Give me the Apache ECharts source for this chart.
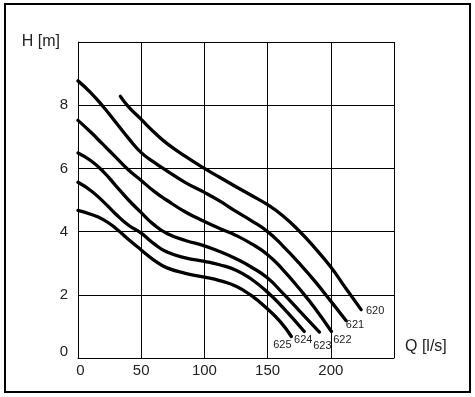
<!DOCTYPE html>
<html>
<head>
<meta charset="utf-8">
<script src="https://cdn.jsdelivr.net/npm/echarts@6/dist/echarts.min.js"></script>
<style>html,body{margin:0;padding:0;background:#fff;}#c{width:475px;height:397px;}</style>
</head>
<body>
<div id="c"></div>
<script>
const xTicks = [0, 50, 100, 150, 200];
const yTicks = [0, 2, 4, 6, 8];
const curveNames = ['620', '621', '622', '623', '624', '625'];
const c620 = [[33.5,8.28],[40,7.95],[50,7.55],[60,7.15],[70,6.8],[85,6.38],[100,6.0],[112,5.72],[125,5.42],[137,5.15],[150,4.85],[162,4.5],[175,4.02],[187,3.5],[200,2.88],[212,2.2],[224,1.53]];
const c621 = [[0,8.77],[10,8.4],[20,7.95],[30,7.45],[40,6.95],[50,6.5],[60,6.2],[70,5.93],[85,5.55],[100,5.24],[112,4.97],[125,4.64],[137,4.35],[150,4.0],[162,3.55],[175,3.0],[187,2.45],[200,1.8],[212,1.19]];
const c622 = [[0,7.52],[10,7.15],[20,6.75],[30,6.35],[40,5.95],[50,5.62],[60,5.28],[70,5.0],[85,4.62],[100,4.32],[112,4.1],[125,3.88],[137,3.62],[150,3.27],[162,2.8],[175,2.2],[187,1.6],[200.5,0.84]];
const c623 = [[0,6.49],[10,6.25],[20,5.9],[30,5.45],[40,5.0],[50,4.6],[60,4.22],[70,3.95],[85,3.72],[100,3.55],[112,3.37],[125,3.14],[137,2.88],[150,2.53],[162,2.05],[175,1.5],[191,0.82]];
const c624 = [[0,5.56],[10,5.3],[20,4.95],[30,4.55],[40,4.2],[50,3.95],[60,3.62],[70,3.36],[85,3.17],[100,3.06],[112,2.95],[125,2.78],[137,2.5],[150,2.08],[162,1.6],[179,0.84]];
const c625 = [[0,4.67],[10,4.55],[20,4.38],[30,4.1],[40,3.75],[50,3.42],[60,3.1],[70,2.86],[85,2.68],[100,2.56],[112,2.45],[125,2.27],[137,1.98],[150,1.55],[160,1.15],[168.8,0.68]];
const curves = [c620, c621, c622, c623, c624, c625];
const labelOffsets = [[14,1],[9,5],[11,9],[3,14],[-1,9],[-9,8.5]];

const textColor = '#222';
const font = 'Liberation Sans, Arial, sans-serif';

const chart = echarts.init(document.getElementById('c'), null, {renderer: 'canvas'});
chart.setOption({
  animation: false,
  backgroundColor: '#fff',
  graphic: [{
    type: 'rect', shape: {x: 5, y: 4, width: 465, height: 388},
    style: {fill: 'none', stroke: '#000', lineWidth: 2}, z: 10
  }],
  grid: {left: 78, top: 42, width: 316, height: 316, containLabel: false},
  xAxis: {
    type: 'value', min: 0, max: 250, interval: 50,
    name: 'Q [l/s]', nameLocation: 'end', nameGap: 11,
    nameTextStyle: {color: textColor, fontSize: 16, fontFamily: font, align: 'left', verticalAlign: 'bottom', padding: [0,0,3,0]},
    axisLine: {show: true, lineStyle: {color: '#000', width: 1}},
    axisTick: {show: false},
    splitLine: {show: true, lineStyle: {color: '#000', width: 1}},
    axisLabel: {
      color: textColor, fontSize: 15, fontFamily: font, margin: 5,
      formatter: v => xTicks.includes(v) ? (v === 0 ? '{z|0}' : String(v)) : '',
      rich: {z: {color: textColor, fontSize: 15, fontFamily: font, padding: [0,0,0,5]}}
    }
  },
  yAxis: {
    type: 'value', min: 0, max: 10, interval: 2,
    name: 'H [m]', nameLocation: 'end', nameGap: 0,
    nameTextStyle: {color: textColor, fontSize: 16, fontFamily: font, align: 'right', verticalAlign: 'middle', padding: [0,18,0,0]},
    axisLine: {show: true, lineStyle: {color: '#000', width: 1}},
    axisTick: {show: false},
    splitLine: {show: true, lineStyle: {color: '#000', width: 1}},
    axisLabel: {
      color: textColor, fontSize: 15, fontFamily: font, margin: 10,
      formatter: v => yTicks.includes(v) ? (v === 0 ? '{z|0}' : String(v)) : '',
      rich: {z: {color: textColor, fontSize: 15, fontFamily: font, padding: [0,0,12,0]}}
    }
  },
  series: curves.map((d, i) => ({
    type: 'line', name: curveNames[i], data: d,
    smooth: 0.5, showSymbol: false, symbol: 'none',
    lineStyle: {color: '#000', width: 3.3, cap: 'round', join: 'round'},
    z: 5,
    markPoint: {
      symbol: 'circle', symbolSize: 0, silent: true,
      data: [{coord: d[d.length - 1], value: curveNames[i]}],
      label: {show: true, position: 'inside', offset: labelOffsets[i], formatter: curveNames[i],
        color: textColor, fontSize: 11, fontFamily: font, align: 'center', verticalAlign: 'middle'}
    }
  }))
});
</script>
</body>
</html>
